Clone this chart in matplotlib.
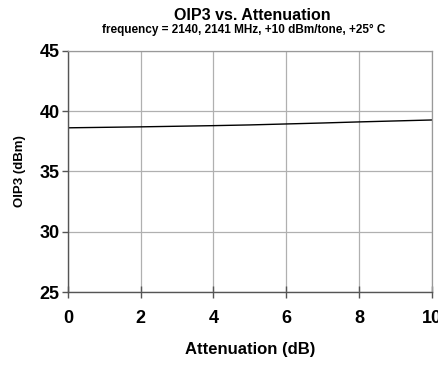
import matplotlib
matplotlib.use("Agg")
import matplotlib.pyplot as plt
from matplotlib import font_manager

# OIP3 vs. Attenuation
atten_db = [0, 1, 2, 3, 4, 5, 6, 7, 8, 9, 10]
oip3_dbm = [38.62, 38.66, 38.70, 38.75, 38.80, 38.86, 38.94, 39.02, 39.11, 39.19, 39.27]
xticks = [0, 2, 4, 6, 8, 10]
yticks = [25, 30, 35, 40, 45]

names = {f.name for f in font_manager.fontManager.ttflist}
narrow = "Liberation Sans Narrow" if "Liberation Sans Narrow" in names else "Liberation Sans"
fam = [narrow, "DejaVu Sans"]
wide = ["Liberation Sans", "DejaVu Sans"]

fig = plt.figure(figsize=(4.38, 3.66), dpi=100)
ax = fig.add_axes([0.155, 0.202, 0.831, 0.659])

ax.plot(atten_db, oip3_dbm, color="black", linewidth=1.0)

ax.set_xlim(0, 10)
ax.set_ylim(25, 45)
ax.set_xticks(xticks)
ax.set_yticks(yticks)
ax.grid(True, color="#b0b0b0", linewidth=0.9)
ax.set_axisbelow(True)

for s in ["left", "bottom"]:
    ax.spines[s].set_color("#555555")
    ax.spines[s].set_linewidth(1.0)
for s in ["top", "right"]:
    ax.spines[s].set_color("#999999")
    ax.spines[s].set_linewidth(0.9)

ax.tick_params(axis="x", direction="inout", length=8, width=1, color="#555555", pad=9)
ax.tick_params(axis="y", direction="out", length=4, width=1, color="#555555", pad=2)
for lab in ax.get_xticklabels() + ax.get_yticklabels():
    lab.set_fontfamily(fam)
    lab.set_fontweight("bold")
    lab.set_fontsize(13)

ax.set_xlabel("Attenuation (dB)", fontsize=12, fontweight="bold", family=fam, labelpad=11)
ax.set_ylabel("OIP3 (dBm)", fontsize=9.5, fontweight="bold", family=wide, labelpad=10)

fig.text(0.575, 0.958, "OIP3 vs. Attenuation", ha="center", va="center",
         fontsize=11.5, fontweight="bold", family=fam)
fig.text(0.557, 0.918, "frequency = 2140, 2141 MHz, +10 dBm/tone, +25\u00b0 C", ha="center",
         va="center", fontsize=8.5, fontweight="bold", family=fam)

fig.savefig("out.png", dpi=100)
